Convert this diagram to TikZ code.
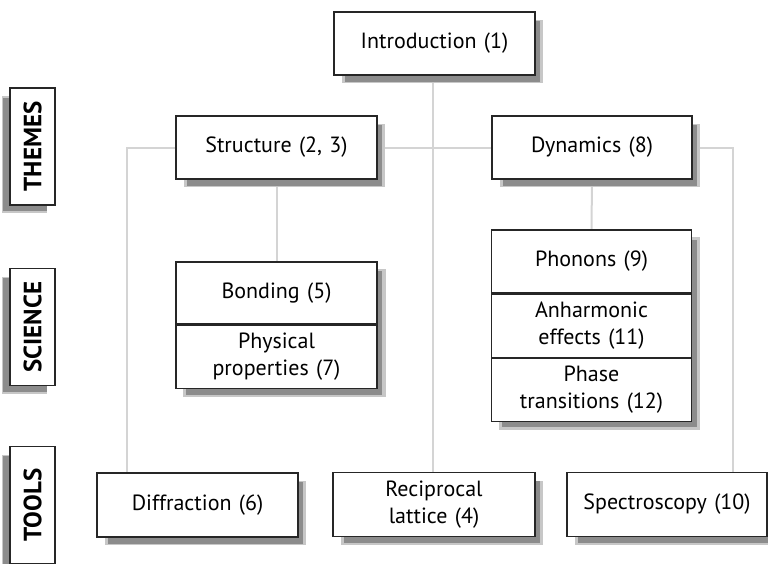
\documentclass[tikz,border=0pt]{standalone}
\usepackage{fontspec}
\setmainfont{PT Sans}
\usetikzlibrary{positioning,shadows,backgrounds,fit}

\tikzset{
  shade box/.style={
    general shadow={shadow xshift=#1, shadow yshift=-8pt, fill=black!22},
    general shadow={shadow xshift=#1, shadow yshift=-8pt, fill=black!45, shadow scale=0.97}},
  shade box/.default=8pt,
  plain box/.style={draw=black!85, line width=1.2pt, fill=white, align=center,
    text width=196pt, minimum width=200pt, minimum height=63pt, inner sep=0pt,
    font=\fontsize{22}{27}\selectfont},
  topic/.style={plain box, shade box},
  part/.style={plain box, below=0pt of #1},
  level/.style={draw=black!85, line width=1.2pt, fill=white, rotate=90,
    minimum width=117pt, minimum height=45pt, inner sep=0pt,
    font=\fontsize{25}{28}\selectfont\bfseries, shade box=-8pt},
  link/.style={draw=black!17, line width=2pt}
}

\begin{document}
\begin{tikzpicture}[x=1pt, y=-1pt]
  \useasboundingbox (0,0) rectangle (768,563);

  \node[level] (themes) at (32.5,146.5) {THEMES};
  \node[level] (science) at (32.5,327) {SCIENCE};
  \node[level] (tools) at (32.5,505) {TOOLS};

  \node[topic, minimum width=201pt] (intro) at (434.5,43.5) {Introduction (1)};
  \node[topic, minimum width=201pt] (struct) at (276.5,147.5) {Structure (2, 3)};
  \node[topic] (dyn) at (592,147.5) {Dynamics (8)};

  \node[plain box, minimum width=201pt, minimum height=62pt] (bond) at (276.5,293) {Bonding (5)};
  \node[part=bond, minimum width=201pt] (phys) {Physical\\properties (7)};

  \node[plain box] (phon) at (591.5,261.5) {Phonons (9)};
  \node[part=phon] (anharm) {Anharmonic\\effects (11)};
  \node[part=anharm] (phase) {Phase\\transitions (12)};

  \node[topic, minimum width=201pt, minimum height=64pt] (diffr) at (197.5,505) {Diffraction (6)};
  \node[topic, minimum width=202pt, minimum height=64pt] (recip) at (434,504.5) {Reciprocal\\lattice (4)};
  \node[topic, minimum height=64pt] (spectro) at (667,504.5) {Spectroscopy (10)};

  \begin{scope}[on background layer]
    \draw[link] ([xshift=-2pt]intro.south) -- ([xshift=-2pt]intro.south |- recip.north);
    \draw[link] (struct.east) -- (dyn.west);
    \draw[link] (struct.west) -| ([xshift=31pt]diffr.north west);
    \draw[link] (dyn.east) -| ([xshift=-35pt]spectro.north east);
    \draw[link] (struct.south) -- (bond.north);
    \draw[link] (dyn.south) -- (phon.north);
    \node[fit=(bond)(phys), inner sep=0pt, fill=white, shade box] (bondstack) {};
    \node[fit=(phon)(phase), inner sep=0pt, fill=white, shade box] (phonstack) {};
  \end{scope}
\end{tikzpicture}
\end{document}
